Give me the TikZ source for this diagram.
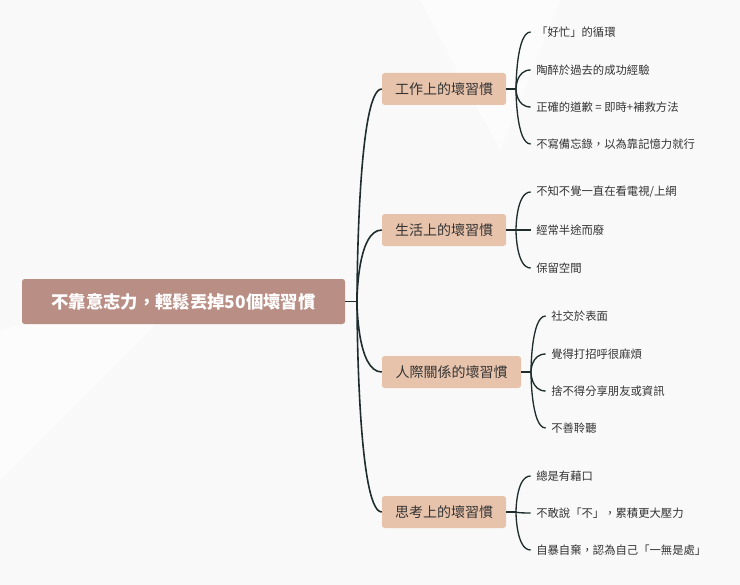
\documentclass[tikz,border=0pt]{standalone}
\usepackage{fontspec}
\setmainfont{Noto Sans CJK TC}
\definecolor{rootc}{HTML}{B98E84}
\definecolor{brc}{HTML}{E8C3AB}
\definecolor{lnc}{HTML}{1F2D2D}
\definecolor{txc}{HTML}{333333}
\begin{document}
\begin{tikzpicture}[x=0.75pt,y=-0.75pt,
  rootbox/.style={fill=rootc,rounded corners=2pt,text=white,font=\fontsize{13}{15}\selectfont\bfseries,inner sep=0pt},
  brbox/.style={fill=brc,rounded corners=2pt,text=txc,font=\fontsize{10.5}{12}\selectfont,inner sep=0pt},
  leaf/.style={anchor=west,text=txc,font=\fontsize{8.5}{10}\selectfont,inner sep=0pt},
  conn/.style={draw=lnc,line width=1.2pt}]
\fill[gray!5] (0,0) rectangle (740,585);
\fill[white,opacity=0.6] (420,0) -- (560,0) -- (500,150) -- cycle;
\fill[white,opacity=0.5] (0,330) -- (200,280) -- (0,480) -- cycle;
\useasboundingbox (0,0) rectangle (740,585);
\node[rootbox,minimum width=323*0.75pt,minimum height=45*0.75pt] (root) at (183.5,301.5) {不靠意志力，輕鬆丟掉50個壞習慣};
\node[brbox,minimum width=124*0.75pt,minimum height=32*0.75pt] (b1) at (444,89) {工作上的壞習慣};
\node[brbox,minimum width=124*0.75pt,minimum height=32*0.75pt] (b2) at (444,230) {生活上的壞習慣};
\node[brbox,minimum width=139*0.75pt,minimum height=32*0.75pt] (b3) at (451.5,372) {人際關係的壞習慣};
\node[brbox,minimum width=124*0.75pt,minimum height=32*0.75pt] (b4) at (444,512) {思考上的壞習慣};
\coordinate (rj) at (357,301.5);
\draw[conn] (root.east) -- (rj);
\foreach \b in {b1,b2,b3,b4}{
  \draw[conn] (rj) .. controls (rj) and (rj |- \b.west) .. (\b.west);
}
% leaves
\node[leaf] (l11) at (536,32) {「好忙」的循環};
\node[leaf] (l12) at (536,70) {陶醉於過去的成功經驗};
\node[leaf] (l13) at (536,107) {正確的道歉 = 即時+補救方法};
\node[leaf] (l14) at (536,144) {不寫備忘錄，以為靠記憶力就行};
\node[leaf] (l21) at (536,192) {不知不覺一直在看電視/上網};
\node[leaf] (l22) at (536,230) {經常半途而廢};
\node[leaf] (l23) at (536,268) {保留空間};
\node[leaf] (l31) at (551,316) {社交於表面};
\node[leaf] (l32) at (551,354) {覺得打招呼很麻煩};
\node[leaf] (l33) at (551,391) {捨不得分享朋友或資訊};
\node[leaf] (l34) at (551,428) {不善聆聽};
\node[leaf] (l41) at (536,476) {總是有藉口};
\node[leaf] (l42) at (536,513) {不敢說「不」，累積更大壓力};
\node[leaf] (l43) at (536,550) {自暴自棄，認為自己「一無是處」};
\coordinate (j1) at (516,89);
\coordinate (j2) at (516,230);
\coordinate (j3) at (531,372);
\coordinate (j4) at (516,512);
\draw[conn] (b1.east) -- (j1); \draw[conn] (b2.east) -- (j2);
\draw[conn] (b3.east) -- (j3); \draw[conn] (b4.east) -- (j4);
\foreach \j/\ls in {j1/{l11,l12,l13,l14},j2/{l21,l22,l23},j3/{l31,l32,l33,l34},j4/{l41,l42,l43}}{
  \foreach \l in \ls {
    \draw[conn,line width=1pt] (\j) .. controls (\j) and (\j |- \l.west) .. ([xshift=-4pt]\l.west);
  }
}
\end{tikzpicture}
\end{document}
